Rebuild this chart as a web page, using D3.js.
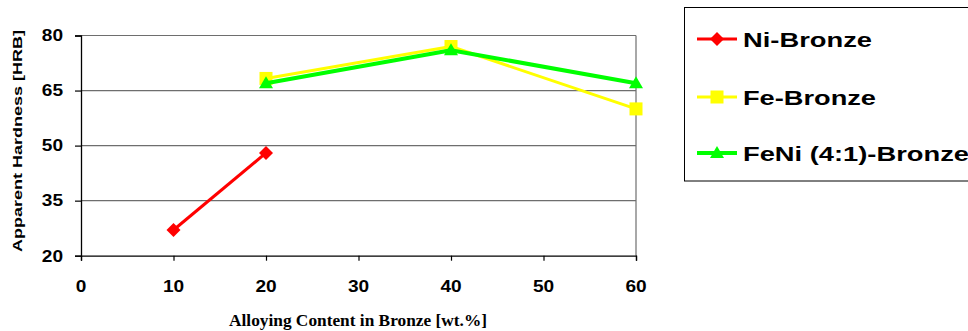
<!DOCTYPE html>
<html><head><meta charset="utf-8">
<script src="https://cdn.jsdelivr.net/npm/d3@7"></script>
<style>body{margin:0;background:#fff}svg{display:block}</style>
</head><body>
<script>
const seriesNames = ["Ni-Bronze", "Fe-Bronze", "FeNi (4:1)-Bronze"];
const seriesColors = ["#ff0000", "#ffff00", "#00ff00"];
const seriesMarkers = ["diamond", "square", "triangle"];
const niX = [10, 20];
const niY = [27, 48];
const feX = [20, 40, 60];
const feY = [68.3, 77, 60];
const feniX = [20, 40, 60];
const feniY = [67, 76, 67];
const xTicks = [0, 10, 20, 30, 40, 50, 60];
const yTicks = [20, 35, 50, 65, 80];
const xTitle = "Alloying Content in Bronze [wt.%]";
const yTitle = "Apparent Hardness [HRB]";

const series = [
  {name: seriesNames[0], color: seriesColors[0], marker: seriesMarkers[0], pts: niX.map((x,i)=>({x, y: niY[i]})), w: 3},
  {name: seriesNames[1], color: seriesColors[1], marker: seriesMarkers[1], pts: feX.map((x,i)=>({x, y: feY[i]})), w: 3},
  {name: seriesNames[2], color: seriesColors[2], marker: seriesMarkers[2], pts: feniX.map((x,i)=>({x, y: feniY[i]})), w: 4}
];

const W = 968, H = 331;
const svg = d3.select("body").append("svg").attr("width", W).attr("height", H);
const x = d3.scaleLinear().domain([0, 60]).range([81, 636]);
const y = d3.scaleLinear().domain([20, 80]).range([255.7, 35.5]);

// gridlines
svg.append("g").selectAll("line").data(yTicks.filter(t => t > 20)).join("line")
  .attr("x1", x(0)).attr("x2", x(60)).attr("y1", d => y(d)).attr("y2", d => y(d))
  .attr("stroke", "#6e6e6e").attr("stroke-width", 1.2);
// right border
svg.append("line").attr("x1", x(60)).attr("x2", x(60)).attr("y1", y(80)).attr("y2", y(20))
  .attr("stroke", "#6e6e6e").attr("stroke-width", 1.2);

// axes
const xAxis = svg.append("g").attr("transform", `translate(0,${y(20)})`)
  .call(d3.axisBottom(x).tickValues(xTicks).tickSize(5).tickFormat(""));
const yAxis = svg.append("g").attr("transform", `translate(${x(0)},0)`)
  .call(d3.axisLeft(y).tickValues(yTicks).tickSize(6).tickFormat(""));
[xAxis, yAxis].forEach(g => {
  g.select(".domain").attr("stroke", "#000").attr("stroke-width", 1.3);
  g.selectAll(".tick line").attr("stroke", "#000").attr("stroke-width", 1.2);
});

// tick labels
svg.append("g").selectAll("text").data(xTicks).join("text")
  .attr("x", d => x(d)).attr("y", 292)
  .attr("text-anchor", "middle")
  .attr("font-family", "Arial, 'Liberation Sans', sans-serif").attr("font-weight", "bold")
  .attr("font-size", 16)
  .attr("textLength", d => String(d).length * 10.6).attr("lengthAdjust", "spacingAndGlyphs")
  .text(d => d);
svg.append("g").selectAll("text").data(yTicks).join("text")
  .attr("x", 63).attr("y", d => y(d) + 5.8)
  .attr("text-anchor", "end")
  .attr("font-family", "Arial, 'Liberation Sans', sans-serif").attr("font-weight", "bold")
  .attr("font-size", 16)
  .attr("textLength", d => String(d).length * 10.6).attr("lengthAdjust", "spacingAndGlyphs")
  .text(d => d);

// axis titles
svg.append("text").attr("x", 358).attr("y", 326).attr("text-anchor", "middle")
  .attr("font-family", "'Times New Roman', 'Liberation Serif', serif").attr("font-weight", "bold")
  .attr("font-size", 16.5).attr("textLength", 258).attr("lengthAdjust", "spacingAndGlyphs")
  .text(xTitle);
svg.append("text").attr("transform", "translate(22,141) rotate(-90)").attr("text-anchor", "middle")
  .attr("font-family", "Arial, 'Liberation Sans', sans-serif").attr("font-weight", "bold")
  .attr("font-size", 13).attr("textLength", 222).attr("lengthAdjust", "spacingAndGlyphs")
  .text(yTitle);

// markers
function drawMarker(g, type, cx, cy, color) {
  if (type === "diamond") {
    g.append("path").attr("d", `M${cx},${cy-7}L${cx+7},${cy}L${cx},${cy+7}L${cx-7},${cy}Z`).attr("fill", color);
  } else if (type === "square") {
    g.append("rect").attr("x", cx-6.5).attr("y", cy-6.5).attr("width", 13).attr("height", 13).attr("fill", color);
  } else {
    g.append("path").attr("d", `M${cx},${cy-7}L${cx+7},${cy+5}L${cx-7},${cy+5}Z`).attr("fill", color);
  }
}

const line = d3.line().x(d => x(d.x)).y(d => y(d.y));
series.forEach(s => {
  const g = svg.append("g");
  g.append("path").datum(s.pts).attr("d", line).attr("fill", "none")
    .attr("stroke", s.color).attr("stroke-width", s.w).attr("stroke-linejoin", "round");
  s.pts.forEach(p => drawMarker(g, s.marker, x(p.x), y(p.y), s.color));
});

// legend
svg.append("rect").attr("x", 684.5).attr("y", 7.5).attr("width", 300).attr("height", 173.5)
  .attr("fill", "#fff").attr("stroke", "#000").attr("stroke-width", 1);
const legendY = [39, 97, 153];
const legendW = [129, 133, 226];
series.forEach((s, i) => {
  const g = svg.append("g");
  g.append("line").attr("x1", 697).attr("x2", 737).attr("y1", legendY[i]).attr("y2", legendY[i])
    .attr("stroke", s.color).attr("stroke-width", s.w);
  drawMarker(g, s.marker, 717, legendY[i], s.color);
  g.append("text").attr("x", 743).attr("y", legendY[i] + 7.7)
    .attr("font-family", "Arial, 'Liberation Sans', sans-serif").attr("font-weight", "bold")
    .attr("font-size", 21).attr("textLength", legendW[i]).attr("lengthAdjust", "spacingAndGlyphs")
    .text(s.name);
});
</script>
</body></html>
